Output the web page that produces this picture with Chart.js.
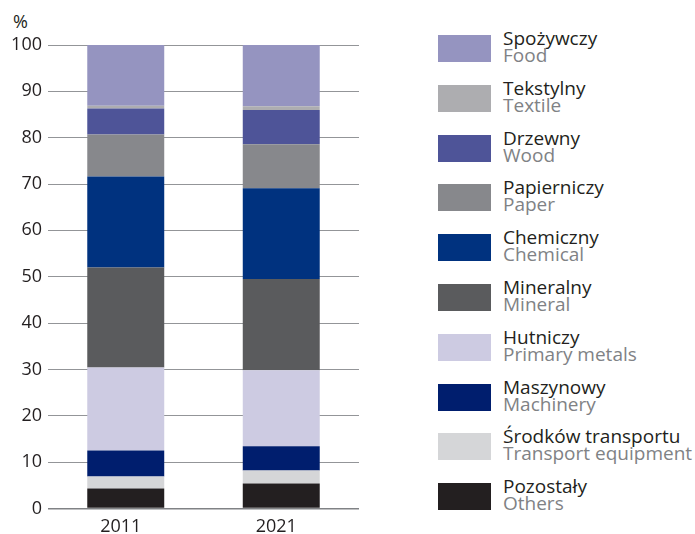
<!DOCTYPE html>
<html>
<head>
<meta charset="utf-8">
<script src="https://cdn.jsdelivr.net/npm/chart.js@4/dist/chart.umd.min.js"></script>
<style>
  html, body { margin: 0; padding: 0; background: #fff; overflow: hidden; }
  body { width: 695px; height: 534px; position: relative; font-family: "Open Sans", sans-serif; }
  #chartBox { position: absolute; left: 0; top: 0; width: 359px; height: 546px; }
  #unit { position: absolute; left: 13px; top: 12px; font-size: 18px; line-height: 18px; color: #231f20; }
  .legendItem { position: absolute; left: 438px; }
  .swatch { position: absolute; left: 0; top: 0; width: 53px; height: 27px; }
  .legendText { position: absolute; left: 65px; top: -5px; font-size: 19px; line-height: 17px; white-space: nowrap; }
  .pl { color: #231f20; }
  .en { color: #808285; }
</style>
</head>
<body>
<div id="unit">%</div>
<div id="chartBox"><canvas id="chart"></canvas></div>
<div id="legend"></div>
<script>
// categories (x axis)
const YEARS = ["2011", "2021"];

// series, bottom of the stack first
const NAMES_PL = ["Pozostały", "Środków transportu", "Maszynowy", "Hutniczy", "Mineralny",
  "Chemiczny", "Papierniczy", "Drzewny", "Tekstylny", "Spożywczy"];
const NAMES_EN = ["Others", "Transport equipment", "Machinery", "Primary metals", "Mineral",
  "Chemical", "Paper", "Wood", "Textile", "Food"];
const COLORS = ["#231f20", "#d5d6d8", "#001e6e", "#cdcbe2", "#5a5b5d",
  "#00327f", "#87888c", "#4e5498", "#adadb0", "#9594c0"];

// shares in %, [2011, 2021]
const OTHERS = [4.3, 5.4];
const TRANSPORT = [2.6, 2.8];
const MACHINERY = [5.6, 5.2];
const METALS = [17.9, 16.4];
const MINERAL = [21.6, 19.7];
const CHEMICAL = [19.6, 19.6];
const PAPER = [9.1, 9.5];
const WOOD = [5.6, 7.4];
const TEXTILE = [0.6, 0.8];
const FOOD = [13.1, 13.2];

const SERIES = [OTHERS, TRANSPORT, MACHINERY, METALS, MINERAL, CHEMICAL, PAPER, WOOD, TEXTILE, FOOD];

// y axis ticks
const Y_MIN = 0;
const Y_MAX = 100;
const Y_STEP = 10;

const datasets = SERIES.map((values, i) => ({
  label: NAMES_PL[i],
  data: values,
  backgroundColor: COLORS[i],
  borderWidth: 0,
  categoryPercentage: 1.0,
  barPercentage: 0.495,
}));

const ctx = document.getElementById("chart").getContext("2d");
const chart = new Chart(ctx, {
  type: "bar",
  data: { labels: YEARS, datasets: datasets },
  options: {
    responsive: true,
    maintainAspectRatio: false,
    animation: false,
    layout: { padding: { top: 45, left: 0, right: 0, bottom: 0 } },
    plugins: {
      legend: { display: false },
      tooltip: { enabled: false },
    },
    scales: {
      x: {
        stacked: true,
        grid: { display: false, drawTicks: false },
        border: { display: false },
        ticks: {
          padding: 8,
          labelOffset: -5,
          color: "#231f20",
          font: { family: "Open Sans", size: 18 },
        },
      },
      y: {
        stacked: true,
        min: Y_MIN,
        max: Y_MAX,
        afterFit: (scale) => { scale.width = 48; },
        grid: {
          drawTicks: false,
          color: (c) => (c.tick && c.tick.value === 0 ? "#808285" : "#939598"),
          lineWidth: (c) => (c.tick && c.tick.value === 0 ? 1.5 : 1),
        },
        border: { display: false },
        ticks: {
          stepSize: Y_STEP,
          padding: 6,
          color: "#231f20",
          font: { family: "Open Sans", size: 18 },
        },
      },
    },
  },
});

// legend, top of the stack first
const legend = document.getElementById("legend");
for (let k = 0; k < NAMES_PL.length; k++) {
  const i = NAMES_PL.length - 1 - k;
  const item = document.createElement("div");
  item.className = "legendItem";
  item.style.top = (35 + k * 49.8) + "px";

  const sw = document.createElement("div");
  sw.className = "swatch";
  sw.style.background = COLORS[i];
  item.appendChild(sw);

  const txt = document.createElement("div");
  txt.className = "legendText";
  const pl = document.createElement("div");
  pl.className = "pl";
  pl.innerText = NAMES_PL[i];
  const en = document.createElement("div");
  en.className = "en";
  en.innerText = NAMES_EN[i];
  txt.appendChild(pl);
  txt.appendChild(en);
  item.appendChild(txt);

  legend.appendChild(item);
}
</script>
</body>
</html>
